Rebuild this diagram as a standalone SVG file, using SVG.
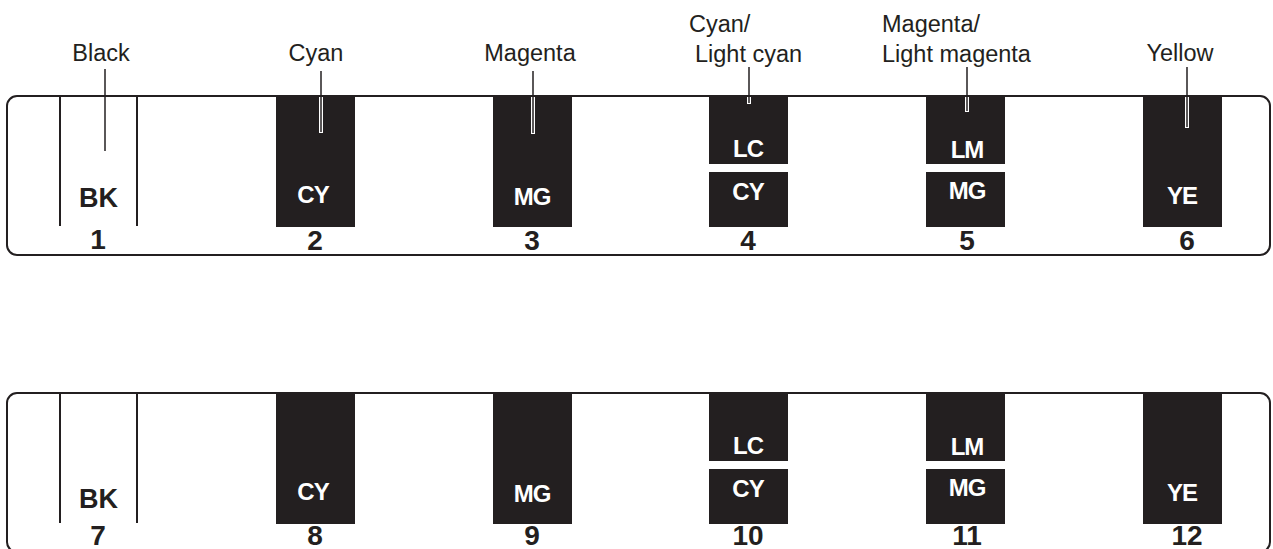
<svg xmlns="http://www.w3.org/2000/svg" width="1273" height="549" viewBox="0 0 1273 549">
<style>
.frame{fill:#fff;stroke:#231f20;stroke-width:2}
.blk{fill:#231f20}
.sep{stroke:#231f20;stroke-width:2}
.lbl{font-family:"Liberation Sans",Arial,sans-serif;font-size:23.5px;fill:#231f20}
.code{font-family:"Liberation Sans",Arial,sans-serif;font-size:24px;font-weight:bold;fill:#fff;text-anchor:middle;letter-spacing:-1px}
.bk{font-family:"Liberation Sans",Arial,sans-serif;font-size:27px;font-weight:bold;fill:#231f20;text-anchor:middle}
.num{font-family:"Liberation Sans",Arial,sans-serif;font-size:28px;font-weight:bold;fill:#231f20;text-anchor:middle}
.halo{stroke:#fff;stroke-width:4}
.lead{stroke:#231f20;stroke-width:1.5}
</style>
<rect width="1273" height="549" fill="#fff"/>

<!-- Top panel -->
<g id="panel-top">
  <rect class="frame" x="7" y="96" width="1263" height="159" rx="10"/>
  <g id="slot1">
    <line class="sep" x1="60" y1="96" x2="60" y2="226"/>
    <line class="sep" x1="137" y1="96" x2="137" y2="226"/>
    <text class="bk" x="98.5" y="207">BK</text>
    <text class="num" x="98" y="249">1</text>
  </g>
  <g id="slot2">
    <rect class="blk" x="276" y="95" width="79" height="132"/>
    <text class="code" x="313" y="203">CY</text>
    <text class="num" x="315" y="250">2</text>
  </g>
  <g id="slot3">
    <rect class="blk" x="493" y="95" width="79" height="132"/>
    <text class="code" x="532" y="205">MG</text>
    <text class="num" x="532" y="250">3</text>
  </g>
  <g id="slot4">
    <rect class="blk" x="709" y="95" width="79" height="69"/>
    <rect class="blk" x="709" y="172" width="79" height="55"/>
    <text class="code" x="748" y="157">LC</text>
    <text class="code" x="748" y="200">CY</text>
    <text class="num" x="748" y="250">4</text>
  </g>
  <g id="slot5">
    <rect class="blk" x="926" y="95" width="79" height="69"/>
    <rect class="blk" x="926" y="172" width="79" height="55"/>
    <text class="code" x="967" y="158">LM</text>
    <text class="code" x="967" y="199">MG</text>
    <text class="num" x="967" y="250">5</text>
  </g>
  <g id="slot6">
    <rect class="blk" x="1143" y="95" width="79" height="132"/>
    <text class="code" x="1182" y="204">YE</text>
    <text class="num" x="1187" y="250">6</text>
  </g>
</g>

<!-- Labels -->
<g id="labels">
  <text class="lbl" x="101" y="61" text-anchor="middle">Black</text>
  <text class="lbl" x="316" y="61" text-anchor="middle">Cyan</text>
  <text class="lbl" x="530" y="61" text-anchor="middle">Magenta</text>
  <text class="lbl" x="689" y="32">Cyan/</text>
  <text class="lbl" x="695" y="62">Light cyan</text>
  <text class="lbl" x="882" y="32">Magenta/</text>
  <text class="lbl" x="882" y="62">Light magenta</text>
  <text class="lbl" x="1180" y="61" text-anchor="middle">Yellow</text>
</g>

<!-- Leaders -->
<g id="connectors">
  <line class="lead" x1="105" y1="69" x2="105" y2="151"/>
  <line class="halo" x1="321" y1="97" x2="321" y2="133"/>
  <line class="lead" x1="321" y1="71" x2="321" y2="132"/>
  <line class="halo" x1="533" y1="97" x2="533" y2="134"/>
  <line class="lead" x1="533" y1="71" x2="533" y2="133"/>
  <line class="halo" x1="749" y1="97" x2="749" y2="104"/>
  <line class="lead" x1="749" y1="67" x2="749" y2="103"/>
  <line class="halo" x1="967" y1="97" x2="967" y2="112"/>
  <line class="lead" x1="967" y1="67" x2="967" y2="111"/>
  <line class="halo" x1="1187" y1="97" x2="1187" y2="128"/>
  <line class="lead" x1="1187" y1="67" x2="1187" y2="127"/>
</g>

<!-- Bottom panel -->
<g id="panel-bottom" transform="translate(0,297)">
  <rect class="frame" x="7" y="96" width="1263" height="159" rx="10"/>
  <g id="slot7">
    <line class="sep" x1="60" y1="96" x2="60" y2="226"/>
    <line class="sep" x1="137" y1="96" x2="137" y2="226"/>
    <text class="bk" x="98.5" y="211">BK</text>
    <text class="num" x="98" y="248">7</text>
  </g>
  <g id="slot8">
    <rect class="blk" x="276" y="95" width="79" height="132"/>
    <text class="code" x="313" y="203">CY</text>
    <text class="num" x="315" y="248">8</text>
  </g>
  <g id="slot9">
    <rect class="blk" x="493" y="95" width="79" height="132"/>
    <text class="code" x="532" y="205">MG</text>
    <text class="num" x="532" y="248">9</text>
  </g>
  <g id="slot10">
    <rect class="blk" x="709" y="95" width="79" height="69"/>
    <rect class="blk" x="709" y="172" width="79" height="55"/>
    <text class="code" x="748" y="157">LC</text>
    <text class="code" x="748" y="200">CY</text>
    <text class="num" x="748" y="248">10</text>
  </g>
  <g id="slot11">
    <rect class="blk" x="926" y="95" width="79" height="69"/>
    <rect class="blk" x="926" y="172" width="79" height="55"/>
    <text class="code" x="967" y="158">LM</text>
    <text class="code" x="967" y="199">MG</text>
    <text class="num" x="967" y="248">11</text>
  </g>
  <g id="slot12">
    <rect class="blk" x="1143" y="95" width="79" height="132"/>
    <text class="code" x="1182" y="204">YE</text>
    <text class="num" x="1187" y="248">12</text>
  </g>
</g>
</svg>
